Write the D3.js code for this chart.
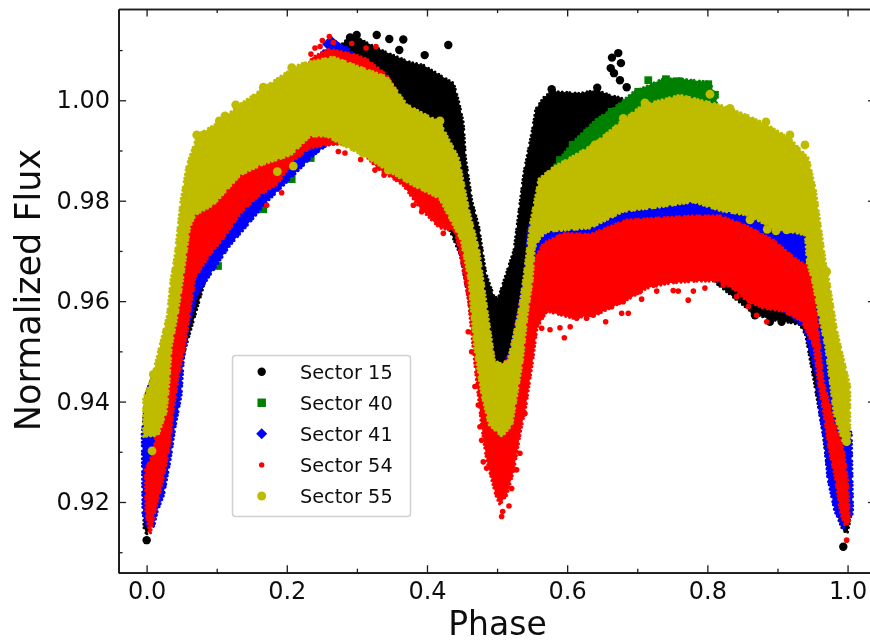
<!DOCTYPE html>
<html><head><meta charset="utf-8">
<script src="https://cdn.jsdelivr.net/npm/d3@7"></script>
<style>html,body{margin:0;padding:0;background:#fff}svg{display:block}text{font-family:"DejaVu Sans",sans-serif;fill:#111}</style>
</head><body><svg id="c" width="870" height="643"></svg>
<script>
const xTicks=[0,0.2,0.4,0.6,0.8,1.0], xMinor=[0.1,0.3,0.5,0.7,0.9];
const yTicks=[0.92,0.94,0.96,0.98,1.00], yMinor=[0.91,0.93,0.95,0.97,0.99,1.01];
const sectorNames=["Sector 15","Sector 40","Sector 41","Sector 54","Sector 55"];
const sectorColors=["#000000","#008000","#0000ff","#ff0000","#bfbc00"];

// cloud outlines: [phase, flux]
const s15Upper=[[-.004,.92],[.05,.96],[.1,.98],[.2,.995],[.27,1.01],[.286,1.0122],[.3,1.0125],[.338,1.0098],[.376,1.0076],[.395,1.007],[.438,1.0034],[.445,1.0],[.452,.9955],[.455,.9887],[.464,.9801],[.474,.9748],[.484,.9656],[.496,.9608],[.502,.9608],[.524,.9702],[.538,.9855],[.551,.9947],[.555,.9982],[.566,1.0005],[.578,1.0018],[.618,1.0014],[.642,1.0021],[.661,1.001],[.675,1.0006],[.69,.9995],[.8,.98],[.9,.97],[.95,.96],[.98,.935],[1.003,.925],[1.003,.916]];
const s15Lower=[[-.004,.915],[.0,.9135],[.01,.917],[.05,.948],[.1,.972],[.2,.987],[.25,.992],[.3,.993],[.4,.985],[.46,.965],[.5,.94],[.55,.96],[.6,.97],[.8,.965],[.865,.9576],[.89,.9563],[.908,.956],[.932,.9553],[.94,.9533],[.951,.9449],[.965,.9337],[.97,.9277],[.98,.9204],[.988,.9162],[.994,.9142],[1.0,.914]];

const s40Upper=[[.1,.98],[.2,.99],[.3,1.0],[.4,.99],[.45,.97],[.48,.955],[.5,.945],[.52,.95],[.55,.965],[.57,.985],[.608,.9917],[.642,.9963],[.665,.9983],[.694,1.0016],[.737,1.0043],[.761,1.0043],[.804,1.0036],[.813,1.0]];
const s40Lower=[[.1,.97],[.205,.985],[.27,.993],[.35,.99],[.45,.975],[.47,.95],[.5,.938],[.53,.945],[.56,.975],[.6,.98],[.813,.985]];

const s41Upper=[[-.006,.9335],[0,.942],[.03,.952],[.06,.975],[.1,.985],[.2,.998],[.25,1.0095],[.27,1.0115],[.285,1.0105],[.3,1.0085],[.34,1.005],[.37,.998],[.42,.99],[.46,.975],[.48,.96],[.5,.945],[.52,.95],[.54,.965],[.545,.975],[.566,.976],[.594,.977],[.685,.98],[.742,.982],[.78,.9803],[.808,.98],[.847,.98],[.885,.978],[.942,.976],[.953,.97],[.98,.94],[1.005,.9337],[1.007,.9178],[1.0,.916]];
const s41Lower=[[-.005,.9178],[0,.9152],[.01,.9152],[.015,.9182],[.024,.9214],[.033,.9281],[.04,.9347],[.049,.9413],[.052,.9481],[.059,.9547],[.072,.9613],[.09,.9652],[.119,.9712],[.148,.9759],[.172,.9799],[.205,.9845],[.238,.9891],[.257,.9911],[.3,.992],[.4,.982],[.44,.975],[.46,.96],[.49,.93],[.505,.93],[.52,.935],[.55,.955],[.6,.965],[.7,.965],[.8,.965],[.85,.962],[.918,.9573],[.939,.9547],[.956,.9447],[.96,.9381],[.968,.9314],[.972,.9248],[.982,.9182],[.994,.9149]];

const s54Upper=[[-.002,.9264],[.01,.9298],[.019,.9403],[.03,.953],[.06,.975],[.1,.985],[.2,.998],[.236,1.0085],[.26,1.0102],[.3,1.009],[.314,1.0082],[.343,1.005],[.37,.998],[.42,.99],[.46,.975],[.48,.96],[.5,.945],[.52,.95],[.54,.965],[.566,.9715],[.594,.9735],[.633,.9733],[.685,.9762],[.78,.977],[.818,.977],[.856,.975],[.894,.9722],[.928,.9682],[.944,.967],[.953,.9616],[.965,.9443],[.982,.9353],[.994,.9306],[1.0,.9244],[1.003,.9158]];
const s54Lower=[[-.001,.9178],[.005,.9135],[.012,.9182],[.024,.9248],[.033,.9314],[.038,.9381],[.045,.9447],[.055,.9513],[.062,.958],[.069,.9646],[.09,.9692],[.11,.9726],[.136,.9779],[.162,.9812],[.186,.9832],[.209,.9879],[.233,.9905],[.257,.9911],[.295,.9915],[.329,.9865],[.366,.9831],[.39,.9785],[.418,.9746],[.44,.9739],[.449,.9682],[.459,.9602],[.468,.9477],[.478,.935],[.485,.9284],[.498,.9214],[.504,.9195],[.514,.9214],[.524,.9264],[.534,.9344],[.541,.939],[.551,.9483],[.557,.9547],[.571,.958],[.608,.9566],[.642,.9573],[.661,.9586],[.69,.9606],[.714,.9626],[.747,.9636],[.785,.964],[.818,.964],[.842,.962],[.856,.96],[.88,.9586],[.908,.958],[.935,.956],[.952,.9509],[.958,.9443],[.966,.9377],[.973,.931],[.983,.9244],[.99,.9178],[.996,.9155]];

const s55Upper=[[-.004,.9331],[-.004,.9405],[.009,.9453],[.03,.9572],[.035,.9642],[.041,.9692],[.049,.9797],[.058,.9871],[.073,.9931],[.105,.9957],[.129,.9987],[.166,1.0023],[.19,1.0046],[.219,1.0072],[.266,1.0086],[.304,1.0066],[.343,1.0046],[.371,.9991],[.418,.9956],[.445,.9884],[.459,.9784],[.474,.97],[.481,.9628],[.486,.9576],[.496,.9481],[.505,.9475],[.516,.9481],[.531,.9576],[.538,.9642],[.548,.9756],[.56,.9843],[.58,.9866],[.637,.9911],[.68,.9961],[.708,.999],[.761,1.001],[.818,.999],[.856,.997],[.885,.9951],[.918,.9923],[.944,.9884],[.954,.9821],[.969,.9668],[.973,.9642],[.984,.9543],[1.003,.943],[1.003,.9328]];
const s55Lower=[[.016,.9333],[.028,.9381],[.032,.9443],[.035,.9509],[.044,.9576],[.051,.9642],[.061,.9746],[.069,.9772],[.095,.9792],[.133,.9851],[.162,.9871],[.205,.9891],[.233,.9929],[.257,.9929],[.28,.9911],[.309,.9891],[.343,.9861],[.38,.9831],[.418,.9805],[.449,.9722],[.46,.9642],[.468,.9509],[.478,.9417],[.489,.9354],[.507,.9331],[.521,.9354],[.536,.9483],[.543,.9576],[.55,.9642],[.553,.9706],[.561,.9726],[.571,.9739],[.633,.9746],[.68,.9779],[.733,.9788],[.78,.9798],[.82,.978],[.856,.9772],[.894,.9746],[.94,.9732],[.943,.9676],[.95,.9642],[.959,.9576],[.969,.9509],[.981,.9377],[.993,.9322],[1.0,.9318]];

// individual points standing off the clouds
const s15Points=[[.2997,1.013],[.2902,1.0125],[.3283,1.013],[.3462,1.0122],[.3662,1.0121],[.4304,1.011],[.3967,1.009],[.3605,1.01],[.3044,1.0114],[.6729,1.0094],[.6639,1.0085],[.6767,1.0074],[.6621,1.0064],[.6668,1.0054],[.6753,1.004],[.6849,1.0026],[.5779,1.0022],[.6429,1.0025],[.9939,.9111],[.0001,.9124],[.8679,.9572],[.8893,.9559],[.9059,.9559]];
const s40Points=[[.7157,1.004],[.7409,1.0042],[.7585,1.0038],[.8013,1.0032],[.7847,1.003],[.6078,.9911],[.5897,.9881],[.6468,.9957],[.6634,.9977],[.7014,1.0017],[.8108,1.0011],[.1665,.9783],[.152,.9781],[.207,.9843],[.2341,.9885],[.1019,.967]];
const s41Points=[[.264,1.0117],[.258,1.0112],[.27,1.011],[.274,1.0102]];
const s54Points=[[.2607,1.0127],[.2507,1.0119],[.2402,1.0104],[.2475,1.0107],[.2345,1.0092],[.2664,1.0115],[.2926,1.0113],[.313,1.0104],[.3272,1.0107],[.2735,.9898],[.283,.9895],[.3054,.9882],[.3258,.9861],[.3387,.9851],[.3805,.9791],[.3924,.9778],[.4233,.9735],[.1713,.9791],[.1927,.9816],[.5959,.9527],[.5755,.9543],[.5897,.9547],[.6043,.9549],[.6549,.9559],[.6777,.9576],[.6872,.9576],[.7062,.9604],[.7277,.962],[.7727,.9602],[.7513,.9621],[.7585,.962],[.78,.962],[.5065,.9171],[.517,.9192],[.508,.9181],[.4851,.9267],[.4803,.928],[.9987,.9124],[.8846,.9559],[.8703,.9572],[.5636,.9546],[.5684,.9579],[.6135,.9566],[.6277,.9566],[.6372,.9572],[.6634,.9589],[.68,.9599],[.7037,.9619],[.7965,.9626],[.8227,.9632],[.8418,.9609],[.8584,.9589],[.4589,.9539],[.4637,.9499],[.4684,.943],[.4732,.9393],[.4756,.935],[.478,.9323],[.5398,.9376],[.5326,.9297],[.5279,.9264],[.5208,.9227]];
const s55Points=[[.0715,.9931],[.1118,.9969],[.1037,.9959],[.1271,.9991],[.1665,1.0026],[.207,1.0065],[.4185,.9959],[.1865,.9858],[.2093,.9869],[.3083,.9895],[.3448,.9861],[.9392,.9911],[.9178,.9931],[.8836,.9957],[.8037,1.0012],[.8608,.9762],[.8854,.9743],[.8979,.974],[.9131,.9742],[.0077,.9302],[.0096,.9454],[.9987,.932],[.9702,.9659],[.6397,.9911],[.6587,.9916],[.6801,.9964],[.711,.9995],[.8323,.9984]];

const uppers=[s15Upper,s40Upper,s41Upper,s54Upper,s55Upper];
const lowers=[s15Lower,s40Lower,s41Lower,s54Lower,s55Lower];
const points=[s15Points,s40Points,s41Points,s54Points,s55Points];
const edgeWidth=[3,3,3.6,3.2,3.6];

const x=d3.scaleLinear().domain([-0.04,1.04]).range([118.56,875.6]);
const y=d3.scaleLinear().domain([0.90592,1.01818]).range([572.7,9]);
const svg=d3.select("#c");
const defs=svg.append("defs");
defs.append("filter").attr("id","soft").attr("filterUnits","userSpaceOnUse").attr("x",0).attr("y",0).attr("width",870).attr("height",643)
  .append("feGaussianBlur").attr("stdDeviation",0.55);
const root=svg.append("g").attr("filter","url(#soft)");
root.append("rect").attr("width",870).attr("height",643).attr("fill","#fff");
const line=d3.line().x(d=>x(d[0])).y(d=>y(d[1]));
const symbols=[
  d3.symbol().type(d3.symbolCircle).size(Math.PI*4.2*4.2),
  d3.symbol().type(d3.symbolSquare).size(60),
  d3.symbol().type(d3.symbolSquare).size(60),
  d3.symbol().type(d3.symbolCircle).size(Math.PI*2.8*2.8),
  d3.symbol().type(d3.symbolCircle).size(Math.PI*4.4*4.4)
];
const rot=[0,0,45,0,0];
const plot=root.append("g");
sectorNames.forEach((n,i)=>{
  const g=plot.append("g").attr("fill",sectorColors[i]);
  g.append("path").attr("d",line(uppers[i].concat(lowers[i].slice().reverse()))+"Z")
    .attr("stroke",sectorColors[i]).attr("stroke-width",edgeWidth[i]).attr("stroke-linecap","round").attr("stroke-dasharray","0 4.5 0 3 0 5.5 0 3.5 0 4");
  g.selectAll(".p").data(points[i]).join("path").attr("class","p").attr("d",symbols[i]())
    .attr("transform",d=>`translate(${x(d[0])},${y(d[1])}) rotate(${rot[i]})`);
});

function styleAxis(g){g.select(".domain").attr("stroke","#1a1a1a").attr("stroke-width",1.7);g.selectAll("line").attr("stroke","#1a1a1a").attr("stroke-width",1.3);}
const fmtX=d3.format(".1f"),fmtY=d3.format(".2f");
const major=-7.5,minor=-4;
const ax=(gen,scale,ticks,size,fmt)=>gen(scale).tickValues(ticks).tickSize(size).tickSizeOuter(0).tickFormat(fmt||"");
const b=root.append("g").attr("transform","translate(0,572.7)");
b.append("g").call(ax(d3.axisBottom,x,xMinor,minor)).call(styleAxis);
const bm=b.append("g").call(ax(d3.axisBottom,x,xTicks,major,fmtX)).call(styleAxis);
bm.selectAll("text").attr("font-size",24).attr("y",9.5).attr("dy","0.71em").attr("fill","#111").style("font-family",'"DejaVu Sans"');
const t=root.append("g").attr("transform","translate(0,9)");
t.append("g").call(ax(d3.axisTop,x,xMinor,minor)).call(styleAxis);
t.append("g").call(ax(d3.axisTop,x,xTicks,major)).call(styleAxis);
const l=root.append("g").attr("transform","translate(118.56,0)");
l.append("g").call(ax(d3.axisLeft,y,yMinor,minor)).call(styleAxis);
const lm=l.append("g").call(ax(d3.axisLeft,y,yTicks,major,fmtY)).call(styleAxis);
lm.selectAll("text").attr("font-size",24).attr("x",-8.5).attr("fill","#111").style("font-family",'"DejaVu Sans"');
const r=root.append("g").attr("transform","translate(875.6,0)");
r.append("g").call(ax(d3.axisRight,y,yMinor,minor)).call(styleAxis);
r.append("g").call(ax(d3.axisRight,y,yTicks,major)).call(styleAxis);

root.append("text").attr("x",497.5).attr("y",635).attr("text-anchor","middle").attr("font-size",33).text("Phase");
root.append("text").attr("transform","translate(40,290) rotate(-90)").attr("text-anchor","middle").attr("font-size",35).text("Normalized Flux");

const leg=root.append("g");
leg.append("rect").attr("x",232.5).attr("y",355.5).attr("width",178).attr("height",161).attr("rx",3).attr("fill","#fff").attr("fill-opacity",.85).attr("stroke","#d0d0d0").attr("stroke-width",1.5);
const legY=d3.scalePoint().domain(sectorNames).range([371.7,496]);
const legSym=[d3.symbol().type(d3.symbolCircle).size(Math.PI*4.2*4.2),d3.symbol().type(d3.symbolSquare).size(72),d3.symbol().type(d3.symbolSquare).size(60),d3.symbol().type(d3.symbolCircle).size(Math.PI*2.7*2.7),d3.symbol().type(d3.symbolCircle).size(Math.PI*4.5*4.5)];
sectorNames.forEach((n,i)=>{
  leg.append("path").attr("d",legSym[i]()).attr("fill",sectorColors[i]).attr("transform",`translate(261.7,${legY(n)}) rotate(${rot[i]})`);
  leg.append("text").attr("x",300).attr("y",legY(n)).attr("dy","0.36em").attr("font-size",19.3).text(n);
});
</script></body></html>
